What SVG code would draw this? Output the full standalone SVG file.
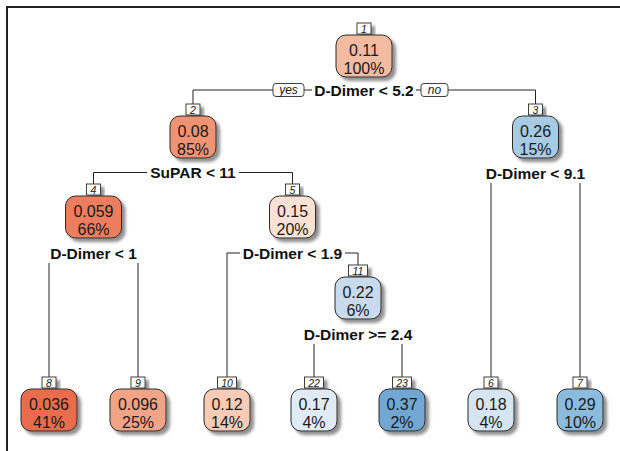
<svg xmlns="http://www.w3.org/2000/svg" width="620" height="451" viewBox="0 0 620 451">
  <defs>
    <filter id="sh" x="-30%" y="-30%" width="160%" height="160%">
      <feDropShadow dx="3.5" dy="3.5" stdDeviation="1.8" flood-color="#7a7a7a" flood-opacity="0.85"/>
    </filter>
  </defs>
  <style>
    .frame { stroke: #222; stroke-width: 2; fill: none; }
    .edge { stroke: #222; stroke-width: 1; fill: none; }
    .box { stroke: #2a2a2a; stroke-width: 1; filter: url(#sh); }
    .nb { fill: #fff; stroke: #2a2a2a; stroke-width: 0.9; filter: url(#sh); }
    .yn { fill: #fff; stroke: #2a2a2a; stroke-width: 0.9; }
    .val { font-family: "Liberation Sans", Arial, sans-serif; font-size: 16px; fill: #1a1a1a; text-anchor: middle; }
    .num { font-family: "Liberation Sans", Arial, sans-serif; font-size: 10.5px; font-style: italic; fill: #1a1a1a; text-anchor: middle; }
    .ynt { font-family: "Liberation Sans", Arial, sans-serif; font-size: 12px; font-style: italic; fill: #1a1a1a; text-anchor: middle; }
    .split { font-family: "Liberation Sans", Arial, sans-serif; font-size: 15.5px; font-weight: bold; fill: #111; text-anchor: middle; }
  </style>

  <!-- plot frame -->
  <path class="frame" d="M7,451 V7 H620"/>

  <!-- connectors -->
  <g id="connectors">
    <path class="edge" d="M193,104 V90 H273 M304,90 H312 M416,90 H421 M448,90 H535.5 V104"/>
    <path class="edge" d="M93.5,184 V172.5 H147 M239,172.5 H292.5 V184"/>
    <path class="edge" d="M491,183 V377 M580,183 V377"/>
    <path class="edge" d="M49,263 V377 M138,263 V377"/>
    <path class="edge" d="M227,377 V253 H240 M345,253 H358 V265"/>
    <path class="edge" d="M314,344 V377 M402,344 V377"/>
    <rect class="yn" x="273" y="83.5" width="31" height="13" rx="3"/>
    <text class="ynt" x="288.5" y="94.2">yes</text>
    <rect class="yn" x="421" y="83.5" width="27" height="13" rx="3"/>
    <text class="ynt" x="434.5" y="94.2">no</text>
  </g>

  <!-- split labels -->
  <g id="splits">
    <text class="split" x="364" y="95.5">D-Dimer &lt; 5.2</text>
    <text class="split" x="193" y="178">SuPAR &lt; 11</text>
    <text class="split" x="535.5" y="178.5">D-Dimer &lt; 9.1</text>
    <text class="split" x="93.5" y="258.5">D-Dimer &lt; 1</text>
    <text class="split" x="292.5" y="258.5">D-Dimer &lt; 1.9</text>
    <text class="split" x="358" y="339.5">D-Dimer &gt;= 2.4</text>
  </g>

  <!-- nodes -->
  <g id="node1">
    <rect class="nb" x="357" y="23" width="14" height="11"/>
    <text class="num" x="364" y="32.5">1</text>
    <rect class="box" x="336" y="35" width="56" height="42" rx="10" fill="#F3BBA1"/>
    <text class="val" x="364" y="55.5">0.11</text>
    <text class="val" x="364" y="73.5">100%</text>
  </g>
  <g id="node2">
    <rect class="nb" x="186" y="104" width="14" height="11"/>
    <text class="num" x="193" y="113.5">2</text>
    <rect class="box" x="170" y="116" width="46" height="42" rx="10" fill="#EF9373"/>
    <text class="val" x="193" y="136.5">0.08</text>
    <text class="val" x="193" y="154.5">85%</text>
  </g>
  <g id="node3">
    <rect class="nb" x="528.5" y="104" width="14" height="11"/>
    <text class="num" x="535.5" y="113.5">3</text>
    <rect class="box" x="512.5" y="116" width="46" height="42" rx="10" fill="#A7CBE4"/>
    <text class="val" x="535.5" y="136.5">0.26</text>
    <text class="val" x="535.5" y="154.5">15%</text>
  </g>
  <g id="node4">
    <rect class="nb" x="86.5" y="184" width="14" height="11"/>
    <text class="num" x="93.5" y="193.5">4</text>
    <rect class="box" x="65.5" y="196" width="56" height="42" rx="10" fill="#EC7E5E"/>
    <text class="val" x="93.5" y="216.5">0.059</text>
    <text class="val" x="93.5" y="234.5">66%</text>
  </g>
  <g id="node5">
    <rect class="nb" x="285.5" y="184" width="14" height="11"/>
    <text class="num" x="292.5" y="193.5">5</text>
    <rect class="box" x="269.5" y="196" width="46" height="42" rx="10" fill="#FBE1D3"/>
    <text class="val" x="292.5" y="216.5">0.15</text>
    <text class="val" x="292.5" y="234.5">20%</text>
  </g>
  <g id="node11">
    <rect class="nb" x="348.5" y="265" width="19" height="11"/>
    <text class="num" x="358" y="274.5">11</text>
    <rect class="box" x="335" y="277" width="46" height="42" rx="10" fill="#C8DAEC"/>
    <text class="val" x="358" y="297.5">0.22</text>
    <text class="val" x="358" y="315.5">6%</text>
  </g>
  <g id="node8">
    <rect class="nb" x="42" y="377" width="14" height="11"/>
    <text class="num" x="49" y="386.5">8</text>
    <rect class="box" x="21" y="389" width="56" height="42" rx="10" fill="#E96D4E"/>
    <text class="val" x="49" y="409.5">0.036</text>
    <text class="val" x="49" y="427.5">41%</text>
  </g>
  <g id="node9">
    <rect class="nb" x="131" y="377" width="14" height="11"/>
    <text class="num" x="138" y="386.5">9</text>
    <rect class="box" x="110" y="389" width="56" height="42" rx="10" fill="#F1A486"/>
    <text class="val" x="138" y="409.5">0.096</text>
    <text class="val" x="138" y="427.5">25%</text>
  </g>
  <g id="node10">
    <rect class="nb" x="217.5" y="377" width="19" height="11"/>
    <text class="num" x="227" y="386.5">10</text>
    <rect class="box" x="204" y="389" width="46" height="42" rx="10" fill="#F7CBB6"/>
    <text class="val" x="227" y="409.5">0.12</text>
    <text class="val" x="227" y="427.5">14%</text>
  </g>
  <g id="node22">
    <rect class="nb" x="304.5" y="377" width="19" height="11"/>
    <text class="num" x="314" y="386.5">22</text>
    <rect class="box" x="291" y="389" width="46" height="42" rx="10" fill="#E1EBF5"/>
    <text class="val" x="314" y="409.5">0.17</text>
    <text class="val" x="314" y="427.5">4%</text>
  </g>
  <g id="node23">
    <rect class="nb" x="392.5" y="377" width="19" height="11"/>
    <text class="num" x="402" y="386.5">23</text>
    <rect class="box" x="379" y="389" width="46" height="42" rx="10" fill="#71A7D2"/>
    <text class="val" x="402" y="409.5">0.37</text>
    <text class="val" x="402" y="427.5">2%</text>
  </g>
  <g id="node6">
    <rect class="nb" x="484" y="377" width="14" height="11"/>
    <text class="num" x="491" y="386.5">6</text>
    <rect class="box" x="468" y="389" width="46" height="42" rx="10" fill="#D6E5F2"/>
    <text class="val" x="491" y="409.5">0.18</text>
    <text class="val" x="491" y="427.5">4%</text>
  </g>
  <g id="node7">
    <rect class="nb" x="573" y="377" width="14" height="11"/>
    <text class="num" x="580" y="386.5">7</text>
    <rect class="box" x="557" y="389" width="46" height="42" rx="10" fill="#8CBCDD"/>
    <text class="val" x="580" y="409.5">0.29</text>
    <text class="val" x="580" y="427.5">10%</text>
  </g>
</svg>
